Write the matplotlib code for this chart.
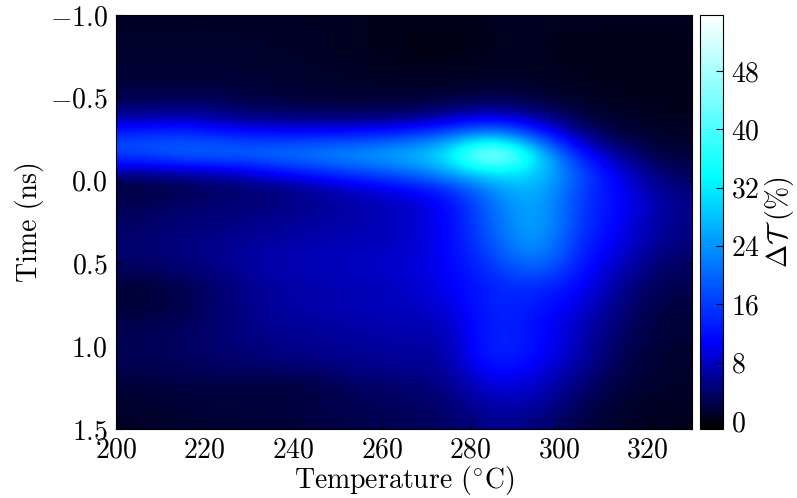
import numpy as np
import matplotlib
matplotlib.use("Agg")
import matplotlib.pyplot as plt
from matplotlib.colors import LinearSegmentedColormap

plt.rcParams['font.family'] = ['cmr10', 'DejaVu Serif']
plt.rcParams['mathtext.fontset'] = 'cm'
plt.rcParams['axes.unicode_minus'] = False
plt.rcParams['axes.formatter.use_mathtext'] = True

temperature = [205, 215, 225, 235, 245, 255, 265, 275, 285, 295, 305, 315, 325]
time_ns = [-0.95, -0.85, -0.75, -0.65, -0.55, -0.45, -0.35, -0.25, -0.15, -0.05,
           0.05, 0.15, 0.25, 0.35, 0.45, 0.55, 0.65, 0.75, 0.85, 0.95,
           1.05, 1.15, 1.25, 1.35, 1.45]
delta_t = [
    [0.8, 0.8, 0.8, 0.8, 0.6, 0.5, 0.3, 0.3, 0.5, 0.5, 0.5, 0.5, 0.5],
    [1.0, 1.0, 1.0, 0.8, 0.8, 0.5, 0.2, 0.0, 0.5, 0.5, 0.3, 0.3, 0.3],
    [1.2, 1.2, 1.2, 1.0, 0.8, 0.5, 0.2, 0.0, 0.5, 0.5, 0.3, 0.3, 0.3],
    [1.5, 1.5, 1.5, 1.2, 1.0, 0.8, 0.5, 0.5, 0.8, 0.6, 0.3, 0.3, 0.3],
    [2.0, 2.0, 2.0, 1.5, 1.2, 1.0, 1.0, 1.0, 1.5, 1.0, 0.5, 0.3, 0.3],
    [3.5, 4.5, 3.5, 2.5, 2.0, 2.0, 2.0, 3.0, 4.5, 3.0, 1.0, 0.5, 0.3],
    [8.0, 9.0, 7.0, 6.0, 6.0, 6.0, 6.5, 9.0, 13.0, 8.0, 2.5, 1.0, 0.5],
    [17.0, 18.0, 16.0, 15.0, 15.0, 16.0, 18.0, 23.0, 32.0, 19.0, 6.0, 2.0, 1.0],
    [17.0, 20.0, 20.0, 21.0, 23.0, 25.0, 27.0, 31.0, 55.0, 31.0, 12.0, 5.0, 1.5],
    [6.0, 7.0, 8.0, 11.0, 14.0, 17.0, 20.0, 26.0, 33.0, 31.0, 17.0, 8.0, 3.0],
    [1.5, 2.5, 3.5, 4.5, 6.0, 8.5, 10.5, 14.5, 24.0, 29.0, 16.0, 10.0, 4.5],
    [3.0, 4.0, 4.5, 5.0, 6.0, 7.0, 8.0, 10.5, 21.0, 28.0, 15.0, 10.5, 5.5],
    [3.5, 4.5, 5.0, 5.5, 6.5, 7.0, 8.0, 10.5, 20.0, 28.0, 15.0, 10.0, 5.0],
    [4.0, 5.0, 5.5, 6.5, 7.0, 7.5, 8.0, 10.5, 19.0, 27.0, 14.0, 9.5, 5.0],
    [4.0, 5.0, 6.0, 7.0, 7.5, 8.0, 8.5, 10.5, 17.0, 25.0, 13.0, 8.0, 4.0],
    [3.0, 4.0, 5.5, 7.0, 7.5, 8.0, 8.5, 10.5, 15.0, 20.0, 12.0, 6.5, 3.0],
    [1.5, 2.5, 4.5, 6.5, 7.0, 7.5, 8.0, 10.0, 14.0, 15.0, 11.0, 5.0, 2.5],
    [1.5, 2.5, 4.5, 6.5, 7.0, 7.5, 8.0, 9.0, 14.5, 13.0, 9.5, 4.0, 2.0],
    [2.5, 3.0, 4.5, 6.0, 6.5, 7.0, 7.5, 7.5, 14.5, 12.0, 8.0, 3.5, 1.5],
    [3.0, 3.5, 4.5, 5.5, 6.0, 6.5, 7.0, 6.5, 15.0, 12.0, 7.5, 3.0, 1.5],
    [3.0, 3.5, 4.0, 5.0, 5.5, 6.0, 6.5, 6.0, 15.0, 11.5, 7.0, 2.5, 1.0],
    [2.5, 3.0, 3.5, 3.5, 4.0, 5.0, 5.5, 5.5, 12.5, 10.0, 5.5, 2.0, 1.0],
    [1.5, 2.0, 2.0, 1.5, 2.0, 3.5, 4.0, 5.0, 9.5, 8.5, 4.0, 1.5, 0.8],
    [1.2, 1.5, 2.0, 2.0, 2.5, 3.0, 3.5, 4.0, 7.5, 7.0, 3.0, 1.0, 0.5],
    [0.8, 1.2, 1.5, 1.5, 2.0, 2.5, 3.0, 3.5, 6.0, 5.0, 2.0, 0.8, 0.4],
]
x_ticks = [200, 220, 240, 260, 280, 300, 320]
y_ticks = [-1.0, -0.5, 0.0, 0.5, 1.0, 1.5]
y_labels = ['$-1.0$', '$-0.5$', '$0.0$', '$0.5$', '$1.0$', '$1.5$']
cbar_ticks = [0, 8, 16, 24, 32, 40, 48]

cmap = LinearSegmentedColormap.from_list(
    'bcw', [(0, '#000000'), (0.21, '#0000ff'), (0.61, '#00ffff'), (1, '#ffffff')])

W, H = 797, 498
fig = plt.figure(figsize=(W / 100, H / 100), dpi=100)
ax = fig.add_axes([116 / W, 1 - 429 / H, (692 - 116) / W, (429 - 15) / H])
im = ax.imshow(np.array(delta_t), cmap=cmap, vmin=-1.1, vmax=55.7, aspect='auto',
               interpolation='bicubic',
               extent=[temperature[0] - 5, temperature[-1] + 5, time_ns[-1] + 0.05, time_ns[0] - 0.05])
ax.set_xticks(x_ticks)
ax.set_xticklabels([f'${v}$' for v in x_ticks])
ax.set_yticks(y_ticks)
ax.set_yticklabels(y_labels)
ax.tick_params(direction='in', top=True, right=True, length=4.3, width=0.8,
               labelsize=20, pad=6, color='k')
ax.set_xlabel('Temperature ($^{\\circ}$C)', fontsize=20, labelpad=0)
ax.set_ylabel('Time (ns)', fontsize=20, labelpad=4)

cax = fig.add_axes([700 / W, 1 - 429 / H, 23 / W, (429 - 15) / H])
cb = fig.colorbar(im, cax=cax)
cb.set_ticks(cbar_ticks)
cb.set_ticklabels([f'${v}$' for v in cbar_ticks])
cax.tick_params(direction='in', length=5, width=0.8, labelsize=20, pad=6, color='k')
cb.set_label('$\\Delta\\mathcal{T}$ (%)', fontsize=20, labelpad=2)

fig.savefig('out.png', dpi=100)
